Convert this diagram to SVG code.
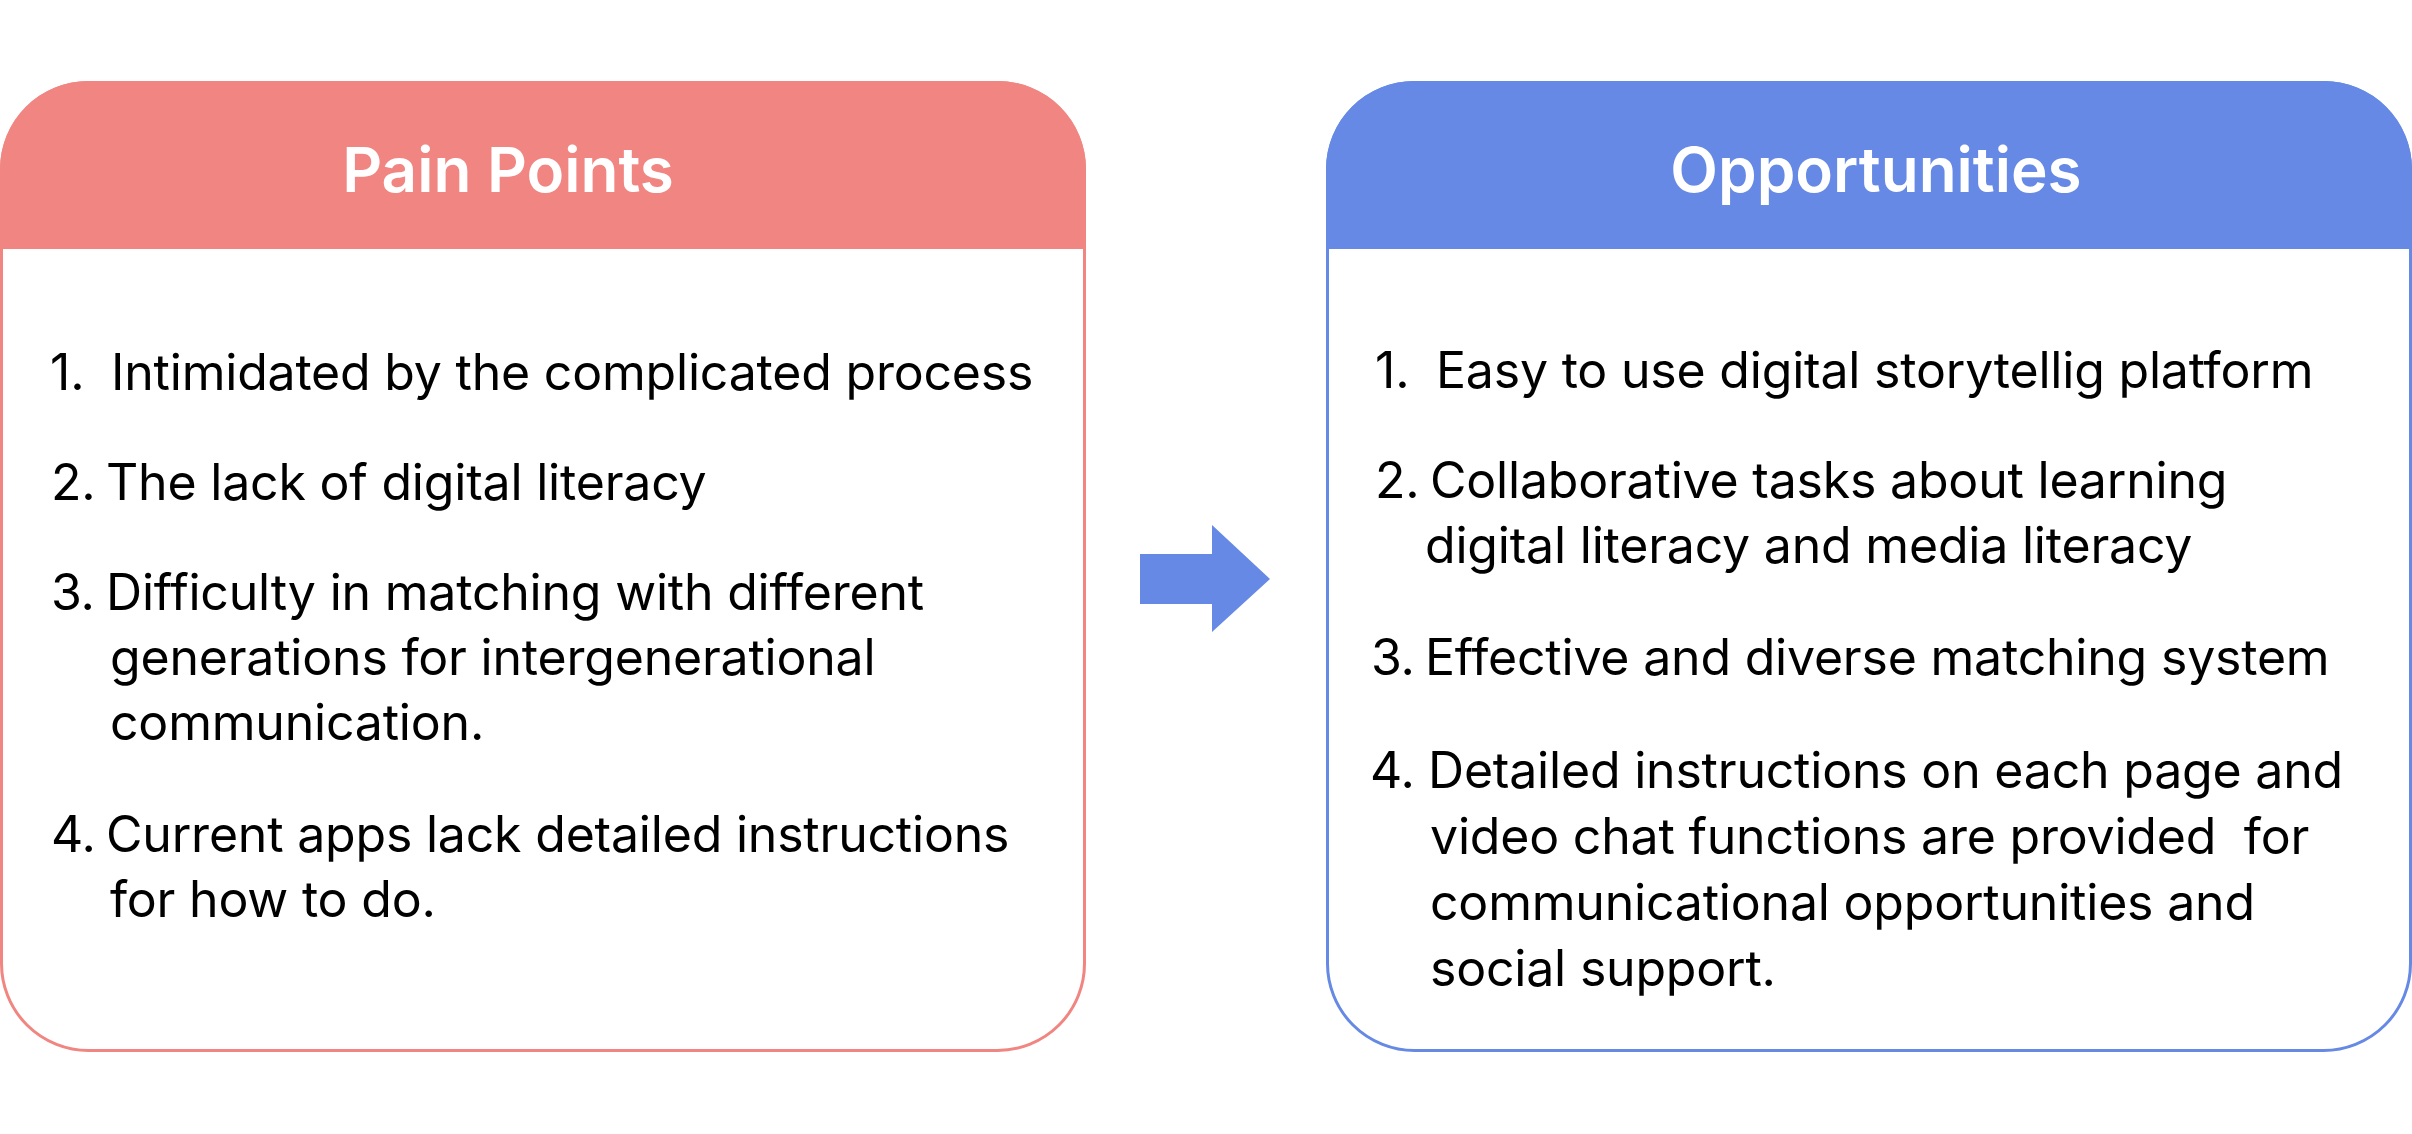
<svg xmlns="http://www.w3.org/2000/svg" width="2412" height="1134" viewBox="0 0 2412 1134">
<style>
.title{font-family:Inter,"Noto Sans",sans-serif;font-weight:600;font-size:62px;fill:#fff;text-anchor:middle}
.body{font-family:Inter,"Noto Sans",sans-serif;font-size:50px;letter-spacing:-0.2px;fill:#000}
.redfill{fill:#F18581}
.bluefill{fill:#6589E4}
.redline{fill:none;stroke:#F18581;stroke-width:3}
.blueline{fill:none;stroke:#6589E4;stroke-width:3}
</style>
<rect width="2412" height="1134" fill="#fff"/>
<g id="pain-points">
<rect class="redline" x="1.5" y="82.5" width="1083" height="968" rx="87" ry="87"/>
<path class="redfill" d="M0,249 V169 A88,88 0 0 1 88,81 H998 A88,88 0 0 1 1086,169 V249 Z"/>
<text class="title" x="508" y="192">Pain Points</text>
<text class="body"><tspan x="50" y="390">1.</tspan><tspan x="111" y="390">Intimidated by the complicated process</tspan></text>
<text class="body"><tspan x="51" y="500">2.</tspan><tspan x="106" y="500">The lack of digital literacy</tspan></text>
<text class="body"><tspan x="51" y="610">3.</tspan><tspan x="106" y="610">Difficulty in matching with different</tspan></text>
<text class="body" x="110" y="675">generations for intergenerational</text>
<text class="body" x="110" y="740">communication.</text>
<text class="body"><tspan x="51" y="852">4.</tspan><tspan x="106" y="852">Current apps lack detailed instructions</tspan></text>
<text class="body" x="110" y="917">for how to do.</text>
</g>
<g id="opportunities">
<rect class="blueline" x="1327.5" y="82.5" width="1083" height="968" rx="87" ry="87"/>
<path class="bluefill" d="M1326,249 V169 A88,88 0 0 1 1414,81 H2324 A88,88 0 0 1 2412,169 V249 Z"/>
<text class="title" x="1876" y="192">Opportunities</text>
<text class="body"><tspan x="1375" y="388">1.</tspan><tspan x="1436" y="388">Easy to use digital storytellig platform</tspan></text>
<text class="body"><tspan x="1375" y="498">2.</tspan><tspan x="1430" y="498">Collaborative tasks about learning</tspan></text>
<text class="body" x="1425" y="563">digital literacy and media literacy</text>
<text class="body"><tspan x="1371" y="675">3.</tspan><tspan x="1425" y="675">Effective and diverse matching system</tspan></text>
<text class="body"><tspan x="1370" y="788">4.</tspan><tspan x="1428" y="788">Detailed instructions on each page and</tspan></text>
<text class="body" x="1430" y="854" xml:space="preserve">video chat functions are provided  for</text>
<text class="body" x="1430" y="920">communicational opportunities and</text>
<text class="body" x="1430" y="986">social support.</text>
</g>
<g id="connectors">
<path class="bluefill" d="M1140,554 H1212 V525 L1270,579 L1212,632 V604 H1140 Z"/>
</g>
</svg>
